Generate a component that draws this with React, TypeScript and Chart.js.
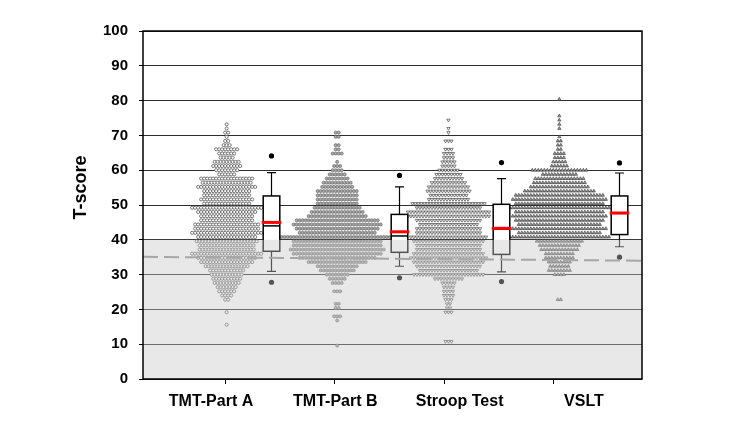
import React, { useEffect, useRef } from 'react';
import { Chart, registerables } from 'chart.js';

Chart.register(...registerables);

// ---------------- data ----------------
const categories = ['TMT-Part A', 'TMT-Part B', 'Stroop Test', 'VSLT'];
const yTicks = [0, 10, 20, 30, 40, 50, 60, 70, 80, 90, 100];

// T-score levels of the dot rows (bottom to top)
const scoreLevels = [
  9.6, 10.8, 12.0, 13.2, 14.4, 15.6, 16.8, 18.0, 19.2, 20.4,
  21.6, 22.8, 24.0, 25.2, 26.4, 27.6, 28.8, 30.0, 31.2, 32.4,
  33.6, 34.8, 36.0, 37.2, 38.4, 39.6, 40.8, 42.0, 43.2, 44.4,
  45.6, 46.8, 48.0, 49.2, 50.4, 51.6, 52.8, 54.0, 55.2, 56.4,
  57.6, 58.8, 60.0, 61.2, 62.4, 63.6, 64.8, 66.0, 67.2, 68.4,
  69.6, 70.8, 72.0, 73.2, 74.4, 75.6, 76.8, 78.0, 79.2, 80.4,
];

// number of subjects at each level
const tmtACounts = [
  0, 0, 0, 0, 0, 1, 0, 0, 1, 0,
  0, 2, 4, 6, 7, 9, 10, 11, 12, 15,
  18, 20, 24, 19, 19, 21, 20, 24, 22, 22,
  18, 18, 20, 24, 16, 18, 16, 16, 20, 17,
  18, 6, 8, 10, 9, 5, 6, 8, 3, 2,
  1, 2, 1, 1, 0, 0, 0, 0, 0, 0,
];
const tmtBCounts = [
  1, 0, 0, 0, 0, 0, 1, 3, 0, 2,
  2, 0, 0, 3, 0, 4, 6, 8, 12, 14,
  20, 26, 30, 32, 30, 30, 38, 26, 28, 30,
  28, 20, 18, 16, 14, 14, 14, 14, 11, 10,
  8, 6, 4, 3, 1, 0, 4, 2, 2, 0,
  2, 2, 0, 0, 0, 0, 0, 0, 0, 0,
];
const stroopCounts = [
  0, 3, 0, 0, 0, 0, 0, 0, 3, 2,
  2, 3, 4, 4, 4, 5, 10, 24, 20, 22,
  24, 26, 24, 22, 22, 24, 26, 22, 22, 20,
  22, 28, 28, 22, 25, 14, 13, 15, 14, 12,
  10, 9, 7, 5, 5, 4, 4, 3, 0, 3,
  0, 1, 1, 0, 1, 0, 0, 0, 0, 0,
];
const vsltCounts = [
  0, 0, 0, 0, 0, 0, 0, 0, 0, 0,
  0, 2, 0, 0, 0, 0, 0, 4, 8, 7,
  8, 10, 10, 13, 14, 16, 34, 28, 32, 28,
  30, 32, 30, 34, 30, 32, 30, 24, 20, 18,
  17, 12, 19, 6, 5, 4, 4, 2, 2, 2,
  1, 0, 1, 1, 1, 1, 0, 0, 0, 1,
];

// box plot statistics
const boxQ1 = [36.7, 36.4, 35.8, 41.5];
const boxMedian = [44.0, 41.1, 43.1, 47.6];
const boxQ3 = [52.6, 47.3, 50.2, 52.6];
const boxMean = [45.0, 42.3, 43.3, 47.7];
const whiskerLow = [30.9, 32.4, 30.8, 38.0];
const whiskerHigh = [59.3, 55.2, 57.6, 59.2];
const outlierLow = [27.8, 29.1, 28.0, 35.0];
const outlierHigh = [64.1, 58.5, 62.2, 62.1];

// reference lines
const impairmentThreshold = 40;
const cutoffLine = [35.1, 34.0];

// ---------------- layout ----------------
const X_MIN = 0.243;
const X_MAX = 4.812;
const swarmCenters = [1.009, 2.021, 3.04, 4.055];
const boxCenters = [1.419, 2.589, 3.525, 4.599];
const dotSpacing = 0.0275; // x-units between neighbouring dots
const FONT = 'Arial, "Liberation Sans", sans-serif';

function swarm(counts: number[], center: number) {
  const pts: { x: number; y: number }[] = [];
  counts.forEach((n, i) => {
    for (let j = 0; j < n; j++) {
      pts.push({ x: center + (j - (n - 1) / 2) * dotSpacing, y: scoreLevels[i] });
    }
  });
  return pts;
}

const decorPlugin = {
  id: 'decor',
  afterDatasetsDraw(chart: any) {
    const { ctx, chartArea: a, scales } = chart;
    const x = scales.x;
    const y = scales.y;
    ctx.save();
    // box plots
    const hw = 8.3;
    boxCenters.forEach((c, i) => {
      const cx = Math.round(x.getPixelForValue(c)) + 0.5;
      const yQ1 = y.getPixelForValue(boxQ1[i]);
      const yQ3 = y.getPixelForValue(boxQ3[i]);
      const yMed = y.getPixelForValue(boxMedian[i]);
      const yMean = y.getPixelForValue(boxMean[i]);
      const yLo = y.getPixelForValue(whiskerLow[i]);
      const yHi = y.getPixelForValue(whiskerHigh[i]);
      ctx.strokeStyle = '#000';
      ctx.lineWidth = 1.2;
      ctx.beginPath();
      ctx.moveTo(cx, yQ3); ctx.lineTo(cx, yHi);
      ctx.moveTo(cx - 4.5, yHi); ctx.lineTo(cx + 4.5, yHi);
      ctx.moveTo(cx, yQ1); ctx.lineTo(cx, yLo);
      ctx.moveTo(cx - 4.5, yLo); ctx.lineTo(cx + 4.5, yLo);
      ctx.stroke();
      ctx.fillStyle = '#fff';
      ctx.fillRect(cx - hw, yQ3, 2 * hw, yQ1 - yQ3);
      ctx.lineWidth = 1.5;
      ctx.strokeRect(cx - hw, yQ3, 2 * hw, yQ1 - yQ3);
      ctx.beginPath();
      ctx.moveTo(cx - hw, yMed); ctx.lineTo(cx + hw, yMed);
      ctx.stroke();
      ctx.strokeStyle = '#ff0000';
      ctx.lineWidth = 3;
      ctx.beginPath();
      ctx.moveTo(cx - hw - 1.5, yMean); ctx.lineTo(cx + hw + 1.5, yMean);
      ctx.stroke();
      ctx.fillStyle = '#000';
      [outlierLow[i], outlierHigh[i]].forEach((v) => {
        ctx.beginPath();
        ctx.arc(cx, y.getPixelForValue(v), 2.6, 0, Math.PI * 2);
        ctx.fill();
      });
    });
    // shaded impairment zone
    const yT = y.getPixelForValue(impairmentThreshold);
    ctx.fillStyle = 'rgba(200,200,200,0.42)';
    ctx.fillRect(a.left, yT, a.right - a.left, a.bottom - yT);
    // dashed cutoff line
    ctx.strokeStyle = '#a6a6a6';
    ctx.lineWidth = 2;
    ctx.setLineDash([15, 6]);
    ctx.beginPath();
    ctx.moveTo(a.left, y.getPixelForValue(cutoffLine[0]));
    ctx.lineTo(a.right, y.getPixelForValue(cutoffLine[1]));
    ctx.stroke();
    ctx.setLineDash([]);
    // frame
    ctx.strokeStyle = '#000';
    ctx.lineWidth = 1.5;
    ctx.strokeRect(a.left, a.top, a.right - a.left, a.bottom - a.top);
    // y title
    ctx.translate(81, 187.5);
    ctx.rotate(-Math.PI / 2);
    ctx.fillStyle = '#000';
    ctx.font = `bold 18px ${FONT}`;
    ctx.textAlign = 'center';
    ctx.textBaseline = 'middle';
    ctx.fillText('T-score', 0, 0);
    ctx.restore();
  },
};

export default function App() {
  const ref = useRef<HTMLCanvasElement | null>(null);
  useEffect(() => {
    if (!ref.current) return;
    const chart = new Chart(ref.current, {
      type: 'scatter',
      data: {
        datasets: [
          {
            label: categories[0],
            data: swarm(tmtACounts, swarmCenters[0]),
            pointStyle: 'circle',
            pointRadius: 1.55,
            pointBorderWidth: 0.75,
            pointBackgroundColor: '#ffffff',
            pointBorderColor: '#505050',
          },
          {
            label: categories[1],
            data: swarm(tmtBCounts, swarmCenters[1]),
            pointStyle: 'circle',
            pointRadius: 1.55,
            pointBorderWidth: 0.6,
            pointBackgroundColor: '#ababab',
            pointBorderColor: '#5a5a5a',
          },
          {
            label: categories[2],
            data: swarm(stroopCounts, swarmCenters[2]),
            pointStyle: 'triangle',
            rotation: 180,
            pointRadius: 1.9,
            pointBorderWidth: 0.65,
            pointBackgroundColor: '#ffffff',
            pointBorderColor: '#3c3c3c',
          },
          {
            label: categories[3],
            data: swarm(vsltCounts, swarmCenters[3]),
            pointStyle: 'triangle',
            pointRadius: 1.9,
            pointBorderWidth: 0.6,
            pointBackgroundColor: '#a0a0a0',
            pointBorderColor: '#333333',
          },
        ] as any,
      },
      options: {
        animation: false,
        responsive: false,
        events: [],
        layout: { padding: { top: 31, right: 91, left: 0, bottom: 0 } },
        plugins: { legend: { display: false }, tooltip: { enabled: false } },
        scales: {
          x: {
            type: 'linear',
            position: 'bottom',
            weight: 0,
            min: X_MIN,
            max: X_MAX,
            afterBuildTicks: (s: any) => {
              s.ticks = categories.map((_, i) => ({ value: i + 1 }));
            },
            afterFit: (s: any) => {
              s.height = 5;
            },
            ticks: { display: false },
            grid: { drawOnChartArea: false, drawTicks: true, tickLength: 5, color: '#000', lineWidth: 1 },
            border: { display: false },
          },
          xl: {
            type: 'linear',
            position: 'bottom',
            weight: 1,
            min: 0.453,
            max: 4.467,
            afterBuildTicks: (s: any) => {
              s.ticks = categories.map((_, i) => ({ value: i + 1 }));
            },
            afterFit: (s: any) => {
              s.height = 39;
            },
            ticks: {
              padding: 7.5,
              color: '#000',
              font: { family: FONT, size: 16, weight: 'bold' },
              maxRotation: 0,
              callback: (v: any) => categories[Math.round(Number(v)) - 1] ?? '',
            },
            grid: { display: false, drawTicks: false },
            border: { display: false },
          },
          y: {
            type: 'linear',
            min: 0,
            max: 100,
            afterBuildTicks: (s: any) => {
              s.ticks = yTicks.map((v) => ({ value: v }));
            },
            afterFit: (s: any) => {
              s.width = 143;
            },
            ticks: {
              padding: 11,
              color: '#000',
              font: { family: FONT, size: 15, weight: 'bold' },
            },
            grid: { color: '#2e2e2e', lineWidth: 1, tickLength: 4, tickColor: '#000' },
            border: { display: false },
          },
        },
      } as any,
      plugins: [decorPlugin],
    });
    return () => chart.destroy();
  }, []);
  return (
    <div style={{ position: 'absolute', left: 0, top: 0, width: 733, height: 423, background: '#fff' }}>
      <canvas ref={ref} width={733} height={423} style={{ display: 'block' }} />
    </div>
  );
}
